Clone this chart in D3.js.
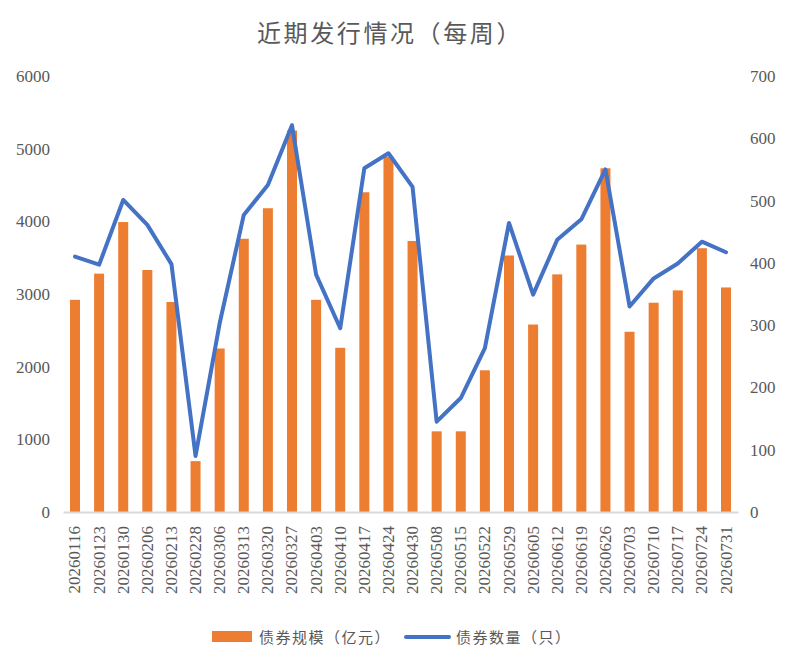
<!DOCTYPE html>
<html>
<head>
<meta charset="utf-8">
<script src="https://cdn.jsdelivr.net/npm/d3@7"></script>
<style>
  body { margin: 0; background: #fff; }
</style>
</head>
<body>
<div id="main"></div>
<script>
// weekly issuance data
var weeks = ["20260116","20260123","20260130","20260206","20260213","20260228","20260306",
  "20260313","20260320","20260327","20260403","20260410","20260417","20260424","20260430",
  "20260508","20260515","20260522","20260529","20260605","20260612","20260619","20260626",
  "20260703","20260710","20260717","20260724","20260731"];
var scale = [2920, 3280, 3990, 3330, 2890, 700, 2250, 3760, 4180, 5250, 2920, 2260, 4400, 4890,
  3730, 1110, 1110, 1950, 3530, 2580, 3270, 3680, 4730, 2480, 2880, 3050, 3630, 3090];
var count = [410, 397, 501, 461, 398, 90, 303, 477, 525, 621, 381, 295, 552, 576,
  522, 145, 183, 263, 464, 349, 437, 470, 550, 330, 375, 399, 434, 417];
var leftTicks = [0, 1000, 2000, 3000, 4000, 5000, 6000];
var rightTicks = [0, 100, 200, 300, 400, 500, 600, 700];

var W = 792, H = 666;
var plotL = 63, plotR = 738, plotT = 76, plotB = 512;
var txt = "#595959";
var cjk = "'Noto Sans CJK SC', sans-serif";
var num = "'Liberation Serif', serif";

var svg = d3.select("#main").append("svg")
  .attr("width", W)
  .attr("height", H);

var x = d3.scaleBand().domain(weeks).range([plotL, plotR])
  .paddingInner(0.585).paddingOuter(0.29);
var yL = d3.scaleLinear().domain([0, 6000]).range([plotB, plotT]);
var yR = d3.scaleLinear().domain([0, 700]).range([plotB, plotT]);

// title
svg.append("text")
  .attr("x", 390).attr("y", 42)
  .attr("text-anchor", "middle")
  .style("font-family", cjk).style("font-size", "24px")
  .style("letter-spacing", "2.6px")
  .attr("fill", txt)
  .text("近期发行情况（每周）");

// left axis
var axL = svg.append("g")
  .attr("transform", "translate(" + (plotL - 13) + ",0)")
  .call(d3.axisLeft(yL).tickValues(leftTicks).tickSize(0).tickPadding(0).tickFormat(d3.format("d")));
axL.select(".domain").remove();
axL.selectAll("text").style("font-family", num).style("font-size", "17px").attr("fill", txt);

// right axis
var axR = svg.append("g")
  .attr("transform", "translate(" + (plotR + 12) + ",0)")
  .call(d3.axisRight(yR).tickValues(rightTicks).tickSize(0).tickPadding(0).tickFormat(d3.format("d")));
axR.select(".domain").remove();
axR.selectAll("text").style("font-family", num).style("font-size", "17px").attr("fill", txt);

// bars
svg.append("g").selectAll("rect")
  .data(scale)
  .enter().append("rect")
  .attr("x", function(d, i) { return x(weeks[i]); })
  .attr("y", function(d) { return yL(d); })
  .attr("width", x.bandwidth())
  .attr("height", function(d) { return yL(0) - yL(d); })
  .attr("fill", "#ED7D31");

// x axis
var axX = svg.append("g")
  .attr("transform", "translate(0," + plotB + ")")
  .call(d3.axisBottom(x).tickSize(0).tickPadding(0));
axX.select(".domain").attr("stroke", "#d9d9d9").attr("stroke-width", 2);
axX.selectAll("text")
  .style("font-family", num).style("font-size", "17px").attr("fill", txt)
  .attr("text-anchor", "end")
  .attr("dy", null)
  .attr("transform", "translate(0,14) rotate(-90)")
  .attr("x", 0).attr("y", 0)
  .attr("dominant-baseline", "central");

// line
var line = d3.line()
  .x(function(d, i) { return x(weeks[i]) + x.bandwidth() / 2; })
  .y(function(d) { return yR(d); });
svg.append("path")
  .datum(count)
  .attr("d", line)
  .attr("fill", "none")
  .attr("stroke", "#4472C4")
  .attr("stroke-width", 4)
  .attr("stroke-linejoin", "round")
  .attr("stroke-linecap", "round");

// legend
var lg = svg.append("g");
lg.append("rect").attr("x", 212).attr("y", 631).attr("width", 40).attr("height", 11).attr("fill", "#ED7D31");
lg.append("text").attr("x", 259).attr("y", 643)
  .style("font-family", cjk).style("font-size", "15px").style("letter-spacing", "1.5px")
  .attr("fill", txt).text("债券规模（亿元）");
lg.append("line").attr("x1", 406).attr("x2", 449).attr("y1", 637).attr("y2", 637)
  .attr("stroke", "#4472C4").attr("stroke-width", 4).attr("stroke-linecap", "round");
lg.append("text").attr("x", 456).attr("y", 643)
  .style("font-family", cjk).style("font-size", "15px").style("letter-spacing", "1.5px")
  .attr("fill", txt).text("债券数量（只）");
</script>
</body>
</html>
